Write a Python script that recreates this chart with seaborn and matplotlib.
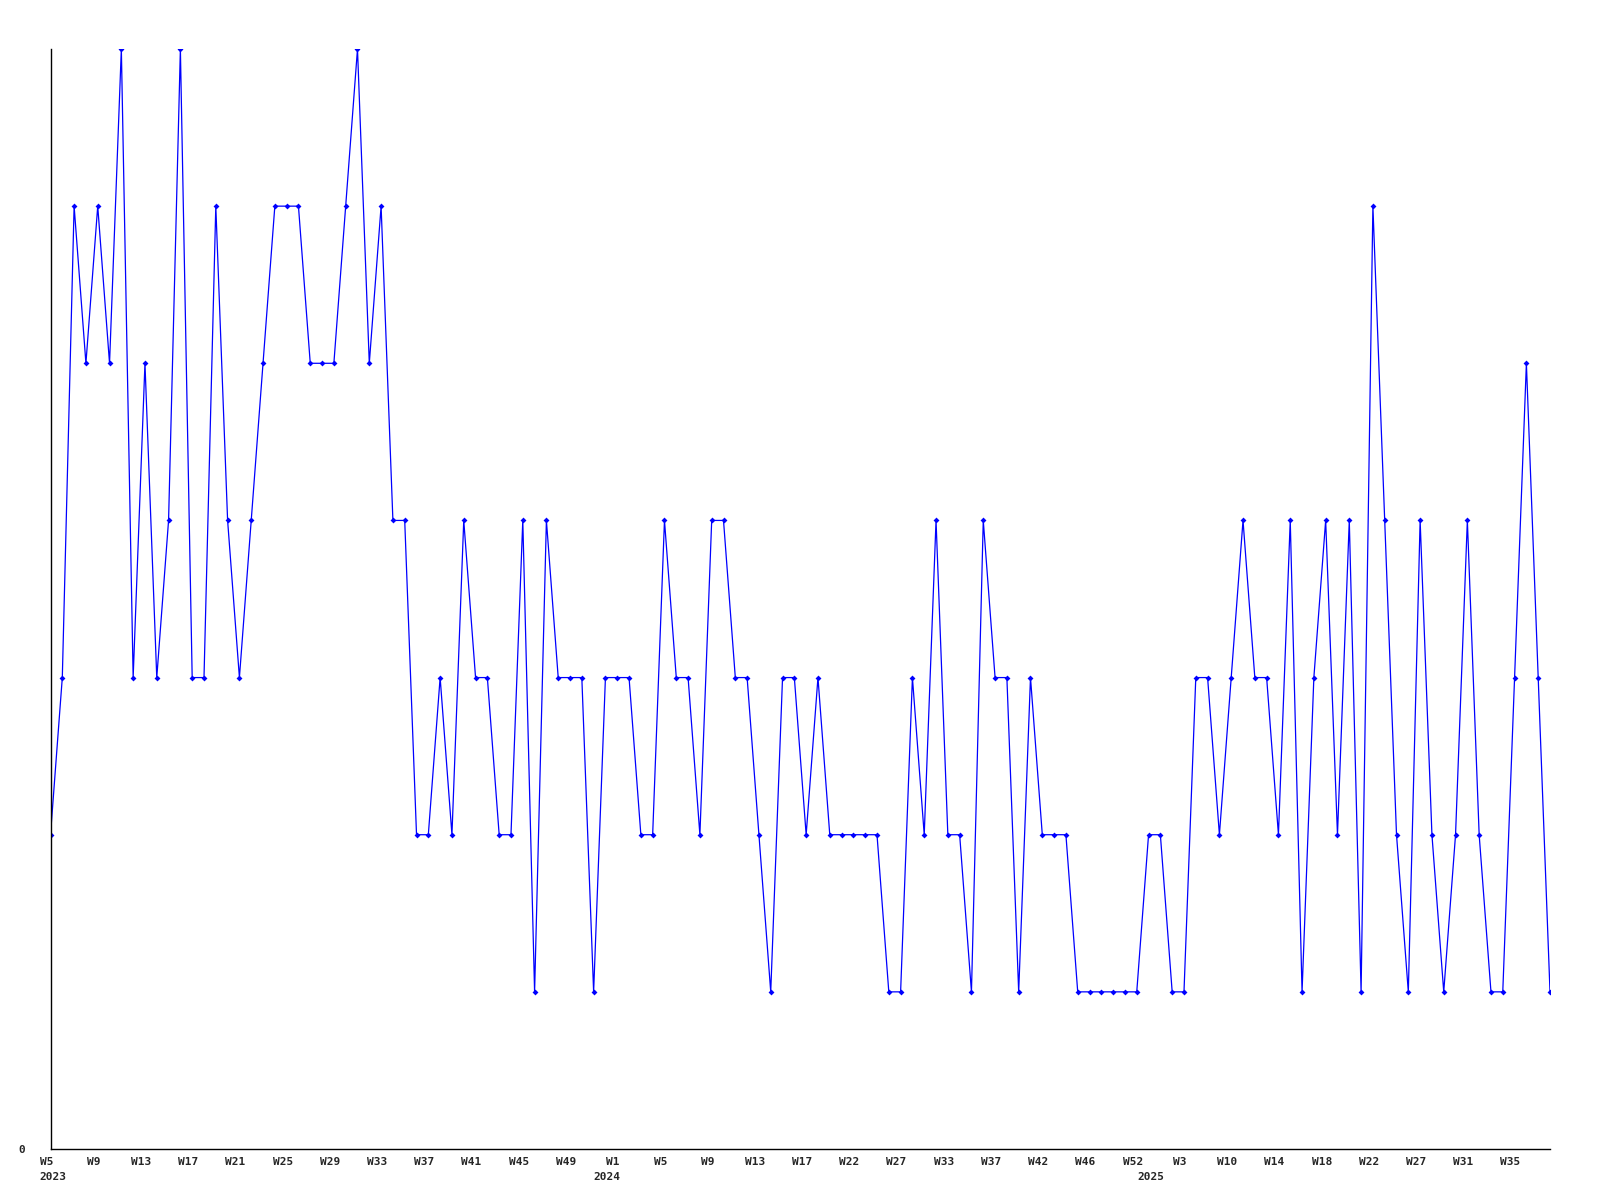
import matplotlib
matplotlib.use("Agg")
import matplotlib.pyplot as plt
import matplotlib.transforms as mtransforms
import numpy as np
import pandas as pd
import seaborn as sns

# week numbers per year (only every 4th one is labelled on the axis)
weeks_2023 = list(range(5, 53))
weeks_2024 = list(range(1, 18)) + [18, 19, 21, 22, 23, 24, 26, 27, 28, 30, 32, 33, 34, 35, 36,
                                   37, 38, 39, 41, 42, 43, 44, 45, 46, 47, 49, 51, 52, 53]
weeks_2025 = [1, 2, 3, 5, 7, 9, 10, 11, 12, 13, 14, 15, 16, 17, 18, 19, 20, 21, 22, 23, 24,
              26, 27, 28, 29, 30, 31, 32, 33, 34, 35, 36, 37, 38]

# weekly counts
values_2023 = [2, 3, 6, 5, 6, 5, 7, 3, 5, 3, 4, 7, 3, 3, 6, 4, 3, 4, 5, 6,
               6, 6, 5, 5, 5, 6, 7, 5, 6, 4, 4, 2, 2, 3, 2, 4, 3, 3, 2, 2,
               4, 1, 4, 3, 3, 3, 1, 3]
values_2024 = [3, 3, 2, 2, 4, 3, 3, 2, 4, 4, 3, 3, 2, 1, 3, 3, 2, 3, 2, 2,
               2, 2, 2, 1, 1, 3, 2, 4, 2, 2, 1, 4, 3, 3, 1, 3, 2, 2, 2, 1,
               1, 1, 1, 1, 1, 2]
values_2025 = [2, 1, 1, 3, 3, 2, 3, 4, 3, 3, 2, 4, 1, 3, 4, 2, 4, 1, 6, 4,
               2, 1, 4, 2, 1, 2, 4, 2, 1, 1, 3, 5, 3, 1]

years = [2023] * len(weeks_2023) + [2024] * len(weeks_2024) + [2025] * len(weeks_2025)
weeks = weeks_2023 + weeks_2024 + weeks_2025
values = values_2023 + values_2024 + values_2025

df = pd.DataFrame({"year": years, "week": ["W%d" % w for w in weeks], "value": values})
df["pos"] = np.arange(len(df))

sns.set_style("white")
plt.rcParams["font.family"] = ["DejaVu Sans Mono"]

fig = plt.figure(figsize=(16, 12), dpi=100)
ax = fig.add_axes([50.5 / 1600, 51 / 1200, 1499.5 / 1600, 1100 / 1200])

sns.lineplot(data=df, x="pos", y="value", ax=ax, color="#0000ff", linewidth=0.9,
             marker="D", markersize=3, markeredgewidth=0, markerfacecolor="#0000ff")

ax.set_xlim(0, len(df) - 1)
ax.set_ylim(0, 7)
ax.set_xlabel("")
ax.set_ylabel("")

ax.set_xticks(df["pos"][::4])
ax.set_xticklabels(df["week"][::4], fontsize=8, fontweight="bold")
ax.set_yticks([0])
ax.set_yticklabels(["0"], fontsize=8, fontweight="bold")
ax.tick_params(axis="x", length=0, pad=6)
ax.tick_params(axis="y", length=0, pad=18)

shift = mtransforms.ScaledTranslation(-4 / 100, 0, fig.dpi_scale_trans)
for lbl in ax.get_xticklabels():
    lbl.set_transform(lbl.get_transform() + shift)

# year labels under the first week of each year
for yr, grp in df.groupby("year"):
    first = grp["pos"].iloc[0]
    if first == 0:
        ax.annotate(str(yr), xy=(0, 0), xycoords=("data", "axes fraction"),
                    xytext=(-11, -28), textcoords="offset pixels",
                    ha="left", va="center", fontsize=8, fontweight="bold")
    else:
        ax.annotate(str(yr), xy=(first - 0.5, 0), xycoords=("data", "axes fraction"),
                    xytext=(-4, -28), textcoords="offset pixels",
                    ha="center", va="center", fontsize=8, fontweight="bold")

for side in ["top", "right"]:
    ax.spines[side].set_visible(False)
for side in ["left", "bottom"]:
    ax.spines[side].set_color("black")
    ax.spines[side].set_linewidth(1)

fig.savefig("out.png", dpi=100, facecolor="white")
